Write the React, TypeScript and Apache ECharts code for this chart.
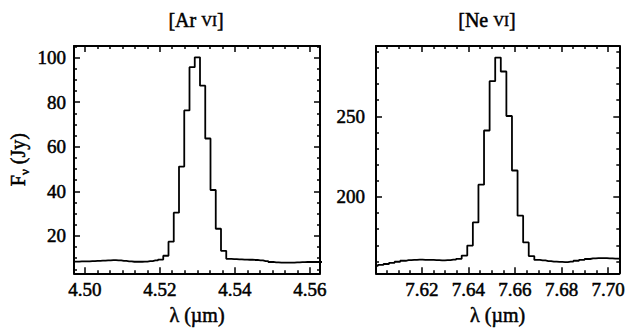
import React, { useEffect, useRef } from 'react';
import * as echarts from 'echarts';

// [Ar VI] spectrum (bin centres, µm) and flux density (Jy)
const arLambda = [
  4.4964, 4.4978, 4.4992, 4.5006, 4.5020, 4.5034, 4.5048, 4.5062, 4.5076, 4.5090,
  4.5104, 4.5118, 4.5132, 4.5146, 4.5160, 4.5174, 4.5188, 4.5202,
  4.5216, 4.5230, 4.5244, 4.5258, 4.5272, 4.5286, 4.5300, 4.5314, 4.5328, 4.5342,
  4.5356, 4.5370,
  4.5384, 4.5398, 4.5412, 4.5426, 4.5440, 4.5454, 4.5468, 4.5482, 4.5496, 4.5510,
  4.5524, 4.5538, 4.5552, 4.5566, 4.5580, 4.5594, 4.5608, 4.5622, 4.5636,
];
const arFlux = [
  8.5, 8.5, 8.6, 8.6, 8.7, 8.8, 8.9, 9.0, 9.1, 9.0,
  8.8, 8.6, 8.4, 8.4, 8.5, 8.7, 9.0, 9.4,
  11.1, 17.4, 30.4, 51.1, 76.3, 95.7, 100.1, 87.4, 63.7, 40.6,
  23.2, 13.3,
  9.7, 9.6, 9.5, 9.4, 9.3, 9.2, 9.0, 8.7, 8.3, 8.1,
  8.0, 8.0, 8.0, 8.1, 8.2, 8.3, 8.3, 8.3, 8.3,
];

// [Ne VI] spectrum
const neLambda = [
  7.5999, 7.6023, 7.6047, 7.6071, 7.6095, 7.6119, 7.6143, 7.6167, 7.6191, 7.6215,
  7.6239, 7.6263, 7.6287, 7.6311, 7.6335, 7.6359,
  7.6383, 7.6407, 7.6431, 7.6455, 7.6479, 7.6503, 7.6527, 7.6551, 7.6575, 7.6599,
  7.6623, 7.6647, 7.6671,
  7.6695, 7.6719, 7.6743, 7.6767, 7.6791, 7.6815, 7.6839, 7.6863, 7.6887, 7.6911,
  7.6935, 7.6959, 7.6983, 7.7007, 7.7031, 7.7055,
];
const neFlux = [
  157.2, 157.8, 158.4, 159.1, 159.8, 160.4, 160.8, 161.0, 161.1, 161.0,
  160.9, 160.8, 160.7, 160.8, 161.1, 161.6,
  163.6, 169.8, 184.2, 207.6, 241.2, 271.8, 286.4, 277.8, 250.2, 216.4,
  188.4, 171.8, 163.3,
  160.9, 160.6, 160.2, 159.9, 159.7, 159.6, 159.9, 160.4, 161.0, 161.5,
  161.9, 162.1, 162.1, 161.9, 161.7, 161.6,
];

// Axis ranges and ticks
const arXRange = [4.4971, 4.5627];
const arYRange = [3.2, 105.2];
const neXRange = [7.6003, 7.7048];
const neYRange = [152.6, 293.6];

const arXTicks = [4.5, 4.52, 4.54, 4.56];
const arXMinor = [4.5033, 4.5067, 4.51, 4.5133, 4.5167, 4.5233, 4.5267, 4.53, 4.5333, 4.5367,
  4.5433, 4.5467, 4.55, 4.5533, 4.5567];
const arYTicks = [20, 40, 60, 80, 100];
const arYMinor = [5, 10, 15, 25, 30, 35, 45, 50, 55, 65, 70, 75, 85, 90, 95, 105];

const neXTicks = [7.62, 7.64, 7.66, 7.68, 7.7];
const neXMinor = [7.605, 7.61, 7.615, 7.625, 7.63, 7.635, 7.645, 7.65, 7.655, 7.665, 7.67,
  7.675, 7.685, 7.69, 7.695];
const neYTicks = [200, 250];
const neYMinor = [160, 170, 180, 190, 210, 220, 230, 240, 260, 270, 280, 290];

const FONT = 'Liberation Serif';
const INK = '#000';
const INKW = 0.5; // slight stroke to mimic the heavy printed type

const labelRich = {
  t: { fontFamily: FONT, fontSize: 19, color: INK, textBorderColor: INK, textBorderWidth: INKW },
};
const nameRich = {
  t: { fontFamily: FONT, fontSize: 20, color: INK, textBorderColor: INK, textBorderWidth: INKW },
};

function xAxes(grid: number, range: number[], majors: number[], minors: number[]) {
  const base = {
    type: 'value' as const,
    gridIndex: grid,
    min: range[0],
    max: range[1],
    splitLine: { show: false },
  };
  return [
    {
      ...base,
      position: 'bottom',
      name: '{t|λ (µm)}',
      nameLocation: 'middle',
      nameGap: 26,
      nameTextStyle: { fontFamily: FONT, fontSize: 20, color: INK, rich: nameRich },
      axisLine: { show: true, onZero: false, lineStyle: { color: INK, width: 2 } },
      axisTick: { show: true, inside: true, length: 6, customValues: majors, lineStyle: { color: INK, width: 1.5 } },
      axisLabel: {
        show: true, customValues: majors, margin: 7,
        formatter: (v: number) => `{t|${v.toFixed(2)}}`,
        fontFamily: FONT, fontSize: 19, color: INK, rich: labelRich,
      },
    },
    {
      ...base,
      position: 'bottom',
      axisLine: { show: false },
      axisTick: { show: true, inside: true, length: 3, customValues: minors, lineStyle: { color: INK, width: 1.5 } },
      axisLabel: { show: false },
    },
    {
      ...base,
      position: 'top',
      axisLine: { show: true, onZero: false, lineStyle: { color: INK, width: 2 } },
      axisTick: { show: true, inside: true, length: 6, customValues: majors, lineStyle: { color: INK, width: 1.5 } },
      axisLabel: { show: false },
    },
    {
      ...base,
      position: 'top',
      axisLine: { show: false },
      axisTick: { show: true, inside: true, length: 3, customValues: minors, lineStyle: { color: INK, width: 1.5 } },
      axisLabel: { show: false },
    },
  ];
}

function yAxes(grid: number, range: number[], majors: number[], minors: number[], margin: number, withName: boolean) {
  const base = {
    type: 'value' as const,
    gridIndex: grid,
    min: range[0],
    max: range[1],
    splitLine: { show: false },
  };
  return [
    {
      ...base,
      position: 'left',
      ...(withName
        ? {
            name: '{a|F}{s|ν}{a| (Jy)}',
            nameLocation: 'middle',
            nameGap: 43,
            nameRotate: 90,
            nameTextStyle: {
              color: INK,
              fontFamily: FONT,
              rich: {
                a: {
                  fontFamily: FONT, fontSize: 20, color: INK, verticalAlign: 'top', padding: [0, 0, 3, 0],
                  textBorderColor: INK, textBorderWidth: INKW,
                },
                s: {
                  fontFamily: FONT, fontSize: 13, color: INK, verticalAlign: 'bottom',
                  textBorderColor: INK, textBorderWidth: INKW,
                },
              },
            },
          }
        : {}),
      axisLine: { show: true, onZero: false, lineStyle: { color: INK, width: 2 } },
      axisTick: { show: true, inside: true, length: 6, customValues: majors, lineStyle: { color: INK, width: 1.5 } },
      axisLabel: {
        show: true, customValues: majors, margin,
        formatter: (v: number) => `{t|${v}}`,
        fontFamily: FONT, fontSize: 19, color: INK, rich: labelRich,
      },
    },
    {
      ...base,
      position: 'left',
      axisLine: { show: false },
      axisTick: { show: true, inside: true, length: 3, customValues: minors, lineStyle: { color: INK, width: 1.5 } },
      axisLabel: { show: false },
    },
    {
      ...base,
      position: 'right',
      axisLine: { show: true, onZero: false, lineStyle: { color: INK, width: 2 } },
      axisTick: { show: true, inside: true, length: 6, customValues: majors, lineStyle: { color: INK, width: 1.5 } },
      axisLabel: { show: false },
    },
    {
      ...base,
      position: 'right',
      axisLine: { show: false },
      axisTick: { show: true, inside: true, length: 3, customValues: minors, lineStyle: { color: INK, width: 1.5 } },
      axisLabel: { show: false },
    },
  ];
}

function titleText(x: number, ion: string) {
  return {
    type: 'text',
    x,
    y: 20,
    style: {
      text: `{a|[${ion} }{b|VI}{a|]}`,
      align: 'center',
      verticalAlign: 'middle',
      fontFamily: FONT,
      rich: {
        a: { fontFamily: FONT, fontSize: 20, fill: INK, stroke: INK, lineWidth: INKW },
        b: {
          fontFamily: FONT, fontSize: 15, fill: INK, stroke: INK, lineWidth: INKW,
          verticalAlign: 'bottom', padding: [0, 0, 2, 0],
        },
      },
    },
  };
}

export default function App() {
  const ref = useRef<HTMLDivElement>(null);
  useEffect(() => {
    if (!ref.current) return;
    const chart = echarts.init(ref.current, undefined, { renderer: 'svg' });
    const lineStyle = { color: INK, width: 1.8 };
    chart.setOption({
      animation: false,
      backgroundColor: '#fff',
      textStyle: { fontFamily: FONT },
      grid: [
        { left: 74, top: 46, width: 246, height: 235 },
        { left: 376, top: 46, width: 244, height: 235 },
      ],
      xAxis: [
        ...xAxes(0, arXRange, arXTicks, arXMinor),
        ...xAxes(1, neXRange, neXTicks, neXMinor),
      ],
      yAxis: [
        ...yAxes(0, arYRange, arYTicks, arYMinor, 8, true),
        ...yAxes(1, neYRange, neYTicks, neYMinor, 11, false),
      ],
      graphic: [titleText(196, 'Ar'), titleText(487, 'Ne')],
      series: [
        {
          type: 'line',
          xAxisIndex: 0,
          yAxisIndex: 0,
          step: 'middle',
          symbol: 'none',
          clip: true,
          lineStyle,
          data: arLambda.map((l, i) => [l, arFlux[i]]),
        },
        {
          type: 'line',
          xAxisIndex: 4,
          yAxisIndex: 4,
          step: 'middle',
          symbol: 'none',
          clip: true,
          lineStyle,
          data: neLambda.map((l, i) => [l, neFlux[i]]),
        },
      ],
    });
    return () => chart.dispose();
  }, []);
  return (
    <div
      ref={ref}
      style={{ position: 'fixed', left: 0, top: 0, width: 628, height: 330, background: '#fff' }}
    />
  );
}
